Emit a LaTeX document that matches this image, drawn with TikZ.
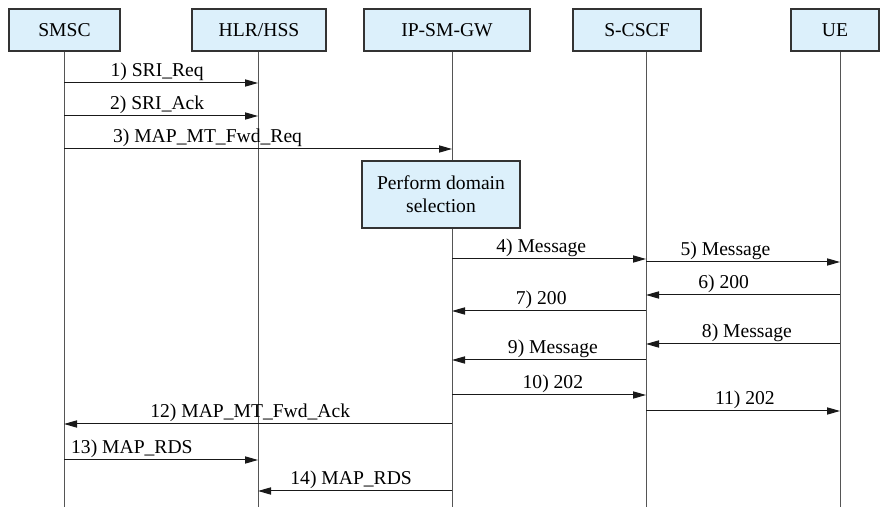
\documentclass[tikz,border=0pt]{standalone}
\usepackage{fontspec}
\setmainfont{Liberation Serif}
\newfontfamily\diagfont{Liberation Serif}
\usetikzlibrary{arrows.meta}
\definecolor{boxblue}{RGB}{220,240,251}
\definecolor{lifegray}{RGB}{85,85,85}
\tikzset{
  entity/.style={draw=black!80, line width=0.6pt, fill=boxblue, minimum height=21pt, inner sep=2pt},
  lifeline/.style={draw=lifegray, line width=0.5pt},
  msg/.style={draw=black!90, line width=0.5pt, -{Triangle[length=6.5pt,width=3.6pt]}},
  lbl/.style={above, inner sep=1pt, text height=1.5ex, text depth=0.45ex}
}

\begin{document}
\begin{tikzpicture}[x=0.5pt, y=-0.5pt, font=\diagfont\fontsize{9.8}{11.5}\selectfont]
\useasboundingbox (0,0) rectangle (880,507);

% lifelines
\foreach \n/\x in {smsc/64, hlr/258, ipsmgw/452, scscf/646, ue/840} {
  \coordinate (\n-top) at (\x,51);
  \coordinate (\n-end) at (\x,507);
  \draw[lifeline] (\n-top) -- (\n-end);
}

% entities
\node[entity, minimum width=55.5pt] (smsc)   at (64.5,30) {SMSC};
\node[entity, minimum width=67pt]   (hlr)    at (259,30)  {HLR/HSS};
\node[entity, minimum width=83pt]   (ipsmgw) at (447,30)  {IP-SM-GW};
\node[entity, minimum width=64pt]   (scscf)  at (637,30)  {S-CSCF};
\node[entity, minimum width=44pt]   (ue)     at (835,30)  {UE};

% domain selection
\node[entity, minimum width=79pt, minimum height=33.5pt, align=center] (domsel) at (441,194.5)
  {Perform domain\\selection};

% messages
\draw[msg] (smsc-top |- 0,83) -- (hlr-top |- 0,83) node[lbl, pos=0.48] {1) SRI\_Req};
\draw[msg] (smsc-top |- 0,116) -- (hlr-top |- 0,116) node[lbl, pos=0.48] {2) SRI\_Ack};
\draw[msg] (smsc-top |- 0,149) -- (ipsmgw-top |- 0,149) node[lbl, pos=0.37] {3) MAP\_MT\_Fwd\_Req};

\draw[msg] (ipsmgw-top |- 0,259) -- (scscf-top |- 0,259) node[lbl, pos=0.46] {4) Message};
\draw[msg] (scscf-top |- 0,262) -- (ue-top |- 0,262) node[lbl, pos=0.41] {5) Message};
\draw[msg] (ue-top |- 0,295) -- (scscf-top |- 0,295) node[lbl, pos=0.6] {6) 200};
\draw[msg] (scscf-top |- 0,311) -- (ipsmgw-top |- 0,311) node[lbl, pos=0.54] {7) 200};
\draw[msg] (ue-top |- 0,344) -- (scscf-top |- 0,344) node[lbl, pos=0.48] {8) Message};
\draw[msg] (scscf-top |- 0,360) -- (ipsmgw-top |- 0,360) node[lbl, pos=0.48] {9) Message};
\draw[msg] (ipsmgw-top |- 0,395) -- (scscf-top |- 0,395) node[lbl, pos=0.52] {10) 202};
\draw[msg] (scscf-top |- 0,411) -- (ue-top |- 0,411) node[lbl, pos=0.51] {11) 202};

\draw[msg] (ipsmgw-top |- 0,424) -- (smsc-top |- 0,424) node[lbl, pos=0.52] {12) MAP\_MT\_Fwd\_Ack};
\draw[msg] (smsc-top |- 0,460) -- (hlr-top |- 0,460) node[lbl, pos=0.35] {13) MAP\_RDS};
\draw[msg] (ipsmgw-top |- 0,491) -- (hlr-top |- 0,491) node[lbl, pos=0.52] {14) MAP\_RDS};

\end{tikzpicture}
\end{document}
